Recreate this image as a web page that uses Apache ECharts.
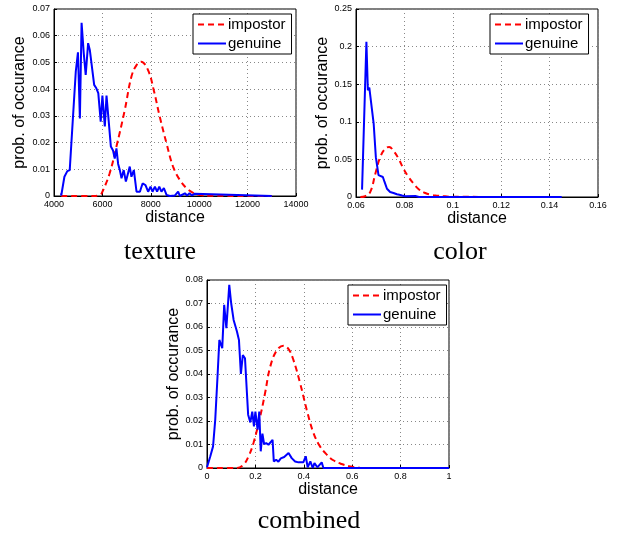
<!DOCTYPE html>
<html>
<head>
<meta charset="utf-8">
<script src="https://cdn.jsdelivr.net/npm/echarts@6/dist/echarts.min.js"></script>
<style>html,body{margin:0;padding:0;background:#fff}#c{width:618px;height:538px}</style>
</head>
<body>
<div id="c"></div>
<script>
// ---- texture ----
var texGenX = [4290, 4300, 4430, 4550, 4650, 4900, 4990, 5070, 5140, 5230, 5310, 5410, 5480, 5560, 5660, 5750, 5830, 5930, 6000, 6100, 6170, 6260, 6350, 6440, 6510, 6580, 6650, 6720, 6790, 6880, 6970, 7060, 7130, 7200, 7300, 7410, 7550, 7660, 7780, 7890, 7990, 8070, 8170, 8260, 8350, 8440, 8540, 8650, 8790, 9000, 9130, 9200, 9410, 9500, 9600, 9700, 9800, 13000];
var texGenY = [0.001, 0.0002, 0.0072, 0.0093, 0.0097, 0.0466, 0.0538, 0.029, 0.0648, 0.0534, 0.0453, 0.0572, 0.0547, 0.055, 0.0416, 0.0403, 0.0385, 0.0278, 0.0376, 0.026, 0.0376, 0.028, 0.0185, 0.017, 0.014, 0.0178, 0.012, 0.0097, 0.0066, 0.0097, 0.0054, 0.0085, 0.011, 0.0072, 0.0097, 0.0016, 0.0016, 0.0047, 0.0041, 0.0016, 0.0035, 0.0016, 0.0035, 0.0016, 0.0035, 0.0016, 0.003, 0.0004, 0, 0.0002, 0.0016, 0, 0.001, 0.0002, 0.001, 0.0002, 0.0008, 0];
var texImpX = [4300, 5600, 5900, 6000, 6300, 6580, 6920, 7200, 7410, 7600, 7890, 8120, 8370, 8650, 8920, 9200, 9480, 9750, 10030, 10500, 13000];
var texImpY = [0, 0, 0.0004, 0.0016, 0.0085, 0.0185, 0.032, 0.0447, 0.049, 0.0503, 0.047, 0.0397, 0.0297, 0.0197, 0.011, 0.006, 0.0029, 0.0012, 0.0004, 0.0001, 0];
var texXTicks = {min: 4000, max: 14000, interval: 2000};
var texYTicks = {min: 0, max: 0.07, interval: 0.01};

// ---- color ----
var colGenX = [0.0625, 0.0643, 0.0649, 0.0655, 0.0663, 0.0673, 0.0682, 0.0693, 0.070, 0.0711, 0.0718, 0.0728, 0.0741, 0.0755, 0.0769, 0.0779, 0.0783, 0.079, 0.0803, 0.0845, 0.086, 0.145];
var colGenY = [0.0098, 0.2065, 0.142, 0.1456, 0.144, 0.0977, 0.053, 0.029, 0.029, 0.0266, 0.02, 0.011, 0.0067, 0.0053, 0.0036, 0.003, 0.0053, 0.002, 0.001, 0.0013, 0, 0];
var colImpX = [0.0618, 0.0638, 0.0659, 0.068, 0.070, 0.0721, 0.0737, 0.0755, 0.0776, 0.0796, 0.0817, 0.0838, 0.0858, 0.0886, 0.0913, 0.0934, 0.0968, 0.10, 0.145];
var colImpY = [0, 0.001, 0.0067, 0.031, 0.053, 0.0644, 0.0666, 0.0613, 0.051, 0.0377, 0.0266, 0.0178, 0.0107, 0.0053, 0.0027, 0.0018, 0.0009, 0.0003, 0];
var colXTicks = {min: 0.06, max: 0.16, interval: 0.02};
var colYTicks = {min: 0, max: 0.25, interval: 0.05};

// ---- combined ----
var comGenX = [0, 0.0137, 0.025, 0.034, 0.044, 0.051, 0.058, 0.063, 0.071, 0.080, 0.092, 0.100, 0.110, 0.124, 0.132, 0.140, 0.148, 0.157, 0.165, 0.170, 0.179, 0.187, 0.194, 0.200, 0.209, 0.216, 0.222, 0.229, 0.236, 0.245, 0.254, 0.261, 0.271, 0.276, 0.286, 0.295, 0.305, 0.319, 0.337, 0.35, 0.364, 0.378, 0.385, 0.398, 0.408, 0.416, 0.427, 0.437, 0.444, 0.456, 0.474, 0.481, 1.0];
var comGenY = [0.0003, 0.005, 0.0092, 0.0205, 0.040, 0.0545, 0.0524, 0.051, 0.0694, 0.0595, 0.0779, 0.070, 0.063, 0.058, 0.0545, 0.040, 0.048, 0.0467, 0.0319, 0.0227, 0.0194, 0.024, 0.0177, 0.024, 0.0163, 0.024, 0.0071, 0.0146, 0.0102, 0.0106, 0.0099, 0.0106, 0.012, 0.0028, 0.0035, 0.0027, 0.0041, 0.0047, 0.0064, 0.0042, 0.0028, 0.0024, 0.0017, 0.0024, 0.005, 0.0003, 0.0028, 0, 0.0021, 0.0003, 0.0024, 0, 0];
var comImpX = [0, 0.124, 0.151, 0.172, 0.192, 0.22, 0.24, 0.261, 0.288, 0.316, 0.337, 0.357, 0.385, 0.412, 0.44, 0.467, 0.495, 0.522, 0.556, 0.591, 0.632, 0.7, 1.0];
var comImpY = [0, 0, 0.0014, 0.005, 0.0106, 0.022, 0.0319, 0.043, 0.050, 0.052, 0.0506, 0.046, 0.036, 0.0248, 0.0149, 0.0092, 0.0057, 0.0033, 0.0017, 0.0007, 0.0001, 0, 0];
var comXTicks = {min: 0, max: 1, interval: 0.2};
var comYTicks = {min: 0, max: 0.08, interval: 0.01};

var captions = ['texture', 'color', 'combined'];
var seriesNames = ['impostor', 'genuine'];

function zip(xs, ys) { return xs.map(function (x, i) { return [x, ys[i]]; }); }
function fmt(v) { return String(+(+v).toFixed(6)); }

var grids = [
  {left: 54, top: 9, width: 242, height: 187},
  {left: 356, top: 9, width: 242, height: 188},
  {left: 207, top: 280, width: 242, height: 188}
];
var xt = [texXTicks, colXTicks, comXTicks];
var yt = [texYTicks, colYTicks, comYTicks];
var yGaps = [26, 24, 22];

var xAxes = [], yAxes = [];
for (var i = 0; i < 3; i++) {
  xAxes.push({
    type: 'value', gridIndex: i, min: xt[i].min, max: xt[i].max, interval: xt[i].interval,
    name: 'distance', nameLocation: 'middle', nameGap: 9,
    nameTextStyle: {fontFamily: 'Liberation Sans', fontSize: 16, color: '#000'},
    axisLine: {show: true, lineStyle: {color: '#000', width: 1}},
    axisTick: {show: true, inside: true, length: 3, lineStyle: {color: '#000'}},
    axisLabel: {fontFamily: 'Liberation Sans', fontSize: 9, color: '#000', margin: 4, formatter: fmt},
    splitLine: {show: true, lineStyle: {color: '#888', type: [1, 3], width: 1}}
  });
  yAxes.push({
    type: 'value', gridIndex: i, min: yt[i].min, max: yt[i].max, interval: yt[i].interval,
    name: 'prob. of occurance', nameLocation: 'middle', nameGap: yGaps[i],
    nameTextStyle: {fontFamily: 'Liberation Sans', fontSize: 16, color: '#000'},
    axisLine: {show: true, lineStyle: {color: '#000', width: 1}},
    axisTick: {show: true, inside: true, length: 3, lineStyle: {color: '#000'}},
    axisLabel: {fontFamily: 'Liberation Sans', fontSize: 9, color: '#000', margin: 4, formatter: fmt},
    splitLine: {show: true, lineStyle: {color: '#888', type: [1, 3], width: 1}}
  });
}

var impData = [zip(texImpX, texImpY), zip(colImpX, colImpY), zip(comImpX, comImpY)];
var genData = [zip(texGenX, texGenY), zip(colGenX, colGenY), zip(comGenX, comGenY)];
var series = [];
for (var j = 0; j < 3; j++) {
  series.push({
    name: seriesNames[0], type: 'line', xAxisIndex: j, yAxisIndex: j, data: impData[j],
    symbol: 'none', smooth: 0.4, animation: false,
    lineStyle: {color: '#ff0000', width: 2, type: [6, 4]}, itemStyle: {color: '#ff0000'}
  });
  series.push({
    name: seriesNames[1], type: 'line', xAxisIndex: j, yAxisIndex: j, data: genData[j],
    symbol: 'none', animation: false,
    lineStyle: {color: '#0000ff', width: 2}, itemStyle: {color: '#0000ff'}
  });
}

var legendPos = [{left: 193, top: 14}, {left: 490, top: 14}, {left: 348, top: 285}];
var legends = legendPos.map(function (p) {
  return {
    left: p.left, top: p.top, orient: 'vertical', data: seriesNames,
    itemWidth: 28, itemHeight: 14, itemGap: 4, padding: [3, 6, 3, 4],
    borderColor: '#000', borderWidth: 1, backgroundColor: '#fff',
    itemStyle: {opacity: 0},
    textStyle: {fontFamily: 'Liberation Sans', fontSize: 15, color: '#000', padding: [0, 0, 0, -3]},
    selectedMode: false
  };
});

var capPos = [[160, 252], [460, 252], [309, 521]];
var graphics = capPos.map(function (p, k) {
  return {
    type: 'text', x: p[0], y: p[1],
    style: {text: captions[k], font: '26px "Liberation Serif"', fill: '#000', textAlign: 'center', textVerticalAlign: 'middle'}
  };
});

var chart = echarts.init(document.getElementById('c'), null, {renderer: 'canvas'});
chart.setOption({
  animation: false,
  backgroundColor: '#fff',
  grid: grids.map(function (g) { return Object.assign({show: true, borderColor: '#000', borderWidth: 1, backgroundColor: 'transparent'}, g); }),
  xAxis: xAxes,
  yAxis: yAxes,
  legend: legends,
  series: series,
  graphic: graphics
});
</script>
</body>
</html>
